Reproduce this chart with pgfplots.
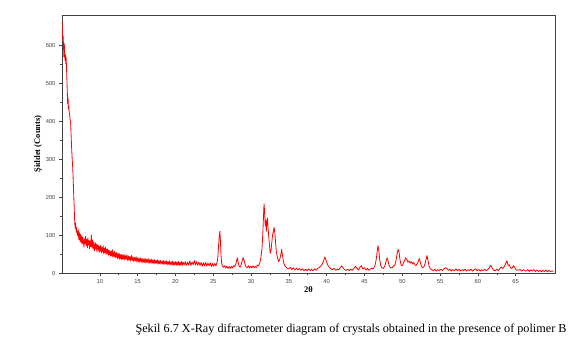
\documentclass[border=0pt]{standalone}
\usepackage{fontspec}
\setmainfont{Liberation Serif}
\newfontfamily\arial{Liberation Sans}
\usepackage{pgfplots}
\pgfplotsset{compat=1.18}
\pgfplotstableread{
x y
5.00 665
5.05 640
5.10 612
5.15 625
5.20 598
5.25 570
5.30 605
5.35 580
5.40 560
5.45 575
5.50 552
5.55 568
5.60 540
5.65 510
5.70 478
5.75 445
5.80 462
5.85 432
5.90 440
5.95 425
6.00 418
6.05 410
6.10 400
6.15 392
6.20 365
6.25 340
6.30 318
6.35 300
6.40 285
6.45 262
6.50 235
6.55 205
6.60 180
6.65 150
6.70 128
6.75 118
6.80 132
6.85 112
6.90 120
6.95 105
7.00 110
7.08 98
7.15 115
7.22 88
7.30 106
7.38 84
7.45 102
7.52 80
7.60 97
7.68 76
7.75 94
7.82 85
7.90 68
7.98 90
8.05 78
8.12 97
8.20 72
8.28 88
8.35 66
8.42 92
8.50 74
8.58 86
8.65 64
8.72 84
8.80 70
8.88 100
8.95 68
9.02 87
9.10 62
9.18 82
9.25 70
9.32 58
9.40 80
9.48 64
9.55 76
9.62 56
9.70 74
9.78 61
9.85 72
9.92 54
10.00 70
10.08 58
10.15 74
10.22 53
10.30 67
10.38 56
10.45 72
10.52 50
10.60 65
10.68 54
10.75 68
10.82 48
10.90 62
10.98 52
11.05 64
11.12 46
11.20 60
11.28 48
11.35 58
11.42 44
11.50 57
11.58 46
11.65 62
11.72 42
11.80 54
11.88 44
11.95 57
12.02 40
12.10 52
12.18 42
12.25 54
12.32 38
12.40 50
12.48 40
12.55 52
12.62 36
12.70 48
12.78 38
12.85 49
12.92 35
13.00 47
13.10 36
13.20 50
13.30 34
13.40 46
13.50 36
13.60 48
13.70 32
13.80 45
13.90 34
14.00 44
14.10 31
14.20 46
14.30 33
14.40 42
14.50 30
14.60 41
14.70 32
14.80 43
14.90 29
15.00 40
15.10 30
15.20 39
15.30 28
15.40 40
15.50 29
15.60 38
15.70 27
15.80 37
15.90 28
16.00 39
16.10 26
16.20 36
16.30 28
16.40 38
16.50 25
16.60 35
16.70 27
16.80 37
16.90 25
17.00 34
17.10 26
17.20 36
17.30 24
17.40 33
17.50 26
17.60 35
17.70 23
17.80 32
17.90 25
18.00 34
18.10 23
18.20 31
18.30 24
18.40 33
18.50 22
18.60 31
18.70 24
18.80 32
18.90 21
19.00 30
19.10 23
19.20 32
19.30 21
19.40 29
19.50 22
19.60 31
19.70 20
19.80 29
19.90 22
20.00 30
20.10 20
20.20 29
20.30 21
20.40 31
20.50 20
20.60 28
20.70 21
20.80 30
20.90 20
21.00 29
21.15 21
21.30 30
21.45 20
21.60 28
21.75 21
21.90 32
22.05 20
22.20 29
22.35 22
22.50 33
22.65 21
22.80 30
22.95 20
23.10 29
23.25 20
23.40 28
23.55 18
23.70 27
23.85 19
24.00 28
24.15 18
24.30 26
24.45 19
24.60 27
24.75 17
24.90 25
25.05 18
25.20 25
25.35 19
25.50 27
25.60 40
25.70 70
25.80 98
25.88 110
25.95 85
26.02 50
26.10 28
26.20 19
26.35 15
26.50 19
26.65 13
26.80 18
26.95 12
27.10 17
27.25 12
27.40 18
27.55 13
27.70 19
27.85 17
28.00 24
28.10 33
28.20 40
28.30 28
28.40 19
28.55 15
28.70 22
28.85 33
28.95 40
29.05 36
29.20 23
29.35 16
29.50 14
29.65 19
29.80 13
29.95 18
30.10 13
30.25 19
30.40 14
30.55 18
30.70 14
30.85 21
31.00 19
31.15 26
31.30 40
31.45 65
31.55 100
31.65 150
31.72 182
31.80 160
31.88 125
31.95 140
32.02 110
32.10 135
32.18 145
32.25 118
32.35 95
32.45 70
32.55 52
32.65 60
32.75 82
32.85 100
32.95 110
33.05 120
33.15 105
33.25 80
33.35 55
33.50 40
33.65 30
33.80 36
33.95 50
34.05 62
34.15 48
34.30 28
34.45 20
34.60 16
34.80 12
35.00 11
35.20 15
35.40 9
35.60 14
35.80 8
36.00 13
36.20 8
36.40 12
36.60 7
36.80 11
37.00 6
37.20 10
37.40 6
37.60 11
37.80 6
38.00 10
38.20 6
38.40 11
38.60 7
38.80 12
39.00 14
39.20 18
39.40 23
39.60 32
39.75 42
39.90 35
40.05 26
40.20 19
40.40 14
40.60 10
40.80 9
41.00 12
41.20 7
41.40 11
41.60 8
41.80 14
42.00 19
42.20 13
42.40 8
42.60 7
42.80 10
43.00 6
43.20 10
43.40 7
43.60 12
43.80 18
44.00 12
44.20 8
44.40 15
44.60 19
44.80 10
45.00 14
45.20 8
45.40 12
45.60 7
45.80 11
46.00 12
46.20 12
46.40 20
46.55 35
46.70 58
46.80 72
46.90 60
47.00 38
47.15 20
47.30 14
47.50 12
47.70 19
47.85 30
48.00 40
48.10 34
48.25 21
48.40 15
48.60 13
48.80 17
49.00 21
49.15 30
49.30 48
49.45 62
49.55 58
49.70 35
49.85 21
50.00 19
50.15 26
50.30 32
50.45 40
50.60 36
50.75 28
50.90 32
51.05 26
51.20 30
51.35 24
51.50 28
51.65 22
51.80 19
51.95 24
52.10 30
52.25 38
52.40 28
52.55 17
52.70 14
52.85 16
53.00 24
53.15 36
53.28 46
53.40 34
53.55 17
53.70 11
53.90 9
54.10 6
54.30 10
54.50 5
54.70 9
54.90 6
55.10 10
55.30 6
55.50 11
55.70 14
55.90 12
56.10 7
56.30 10
56.50 5
56.70 9
56.90 6
57.10 11
57.30 6
57.50 10
57.70 5
57.90 9
58.10 6
58.30 10
58.50 5
58.70 9
58.90 6
59.10 10
59.30 5
59.50 9
59.70 11
59.90 6
60.10 10
60.30 5
60.50 9
60.70 6
60.90 10
61.10 6
61.30 9
61.50 13
61.70 20
61.90 13
62.10 7
62.30 6
62.50 10
62.70 6
62.90 12
63.10 16
63.30 12
63.50 17
63.70 26
63.85 32
64.00 20
64.15 22
64.30 14
64.50 12
64.70 19
64.85 15
65.00 10
65.20 7
65.40 8
65.60 9
65.80 5
66.00 9
66.20 6
66.40 5
66.60 9
66.80 4
67.00 8
67.20 5
67.40 9
67.60 4
67.80 8
68.00 4
68.20 7
68.40 3
68.60 7
68.80 4
69.00 8
69.20 3
69.40 7
69.60 4
69.80 5
70.00 5
}\xrd
\begin{document}
\begin{tikzpicture}
\useasboundingbox (0,0) rectangle (572pt,-345pt);
\begin{axis}[
  at={(62pt,-273pt)}, anchor=south west,
  width=493pt, height=258pt, scale only axis,
  xmin=5, xmax=70.2, ymin=0, ymax=680,
  xtick={10,15,...,65}, ytick={0,100,...,600},
  minor x tick num=1, minor y tick num=1,
  xtick pos=bottom, ytick pos=left,
  tick align=outside,
  major tick length=3pt, minor tick length=2pt,
  axis line style={draw=black!75, line width=0.8pt},
  every tick/.style={black!75, line width=0.5pt},
  /pgf/number format/assume math mode=true,
  tick label style={font=\arial\fontsize{5.8}{7}\selectfont, text=black!75},
  xlabel={\bfseries 2θ}, ylabel={\bfseries Şiddet (Counts)},
  xlabel style={font=\fontsize{8.5}{9}\selectfont, yshift=4pt},
  ylabel style={font=\fontsize{8.5}{9}\selectfont, yshift=-3pt},
]
\addplot[red, line width=0.8pt, line join=round] table {\xrd};
\end{axis}
\node[anchor=west, font=\fontsize{12.2}{13}\selectfont] at (132pt,-330pt) {Şekil 6.7 X-Ray difractometer diagram of crystals obtained in the presence of polimer B};
\end{tikzpicture}
\end{document}
